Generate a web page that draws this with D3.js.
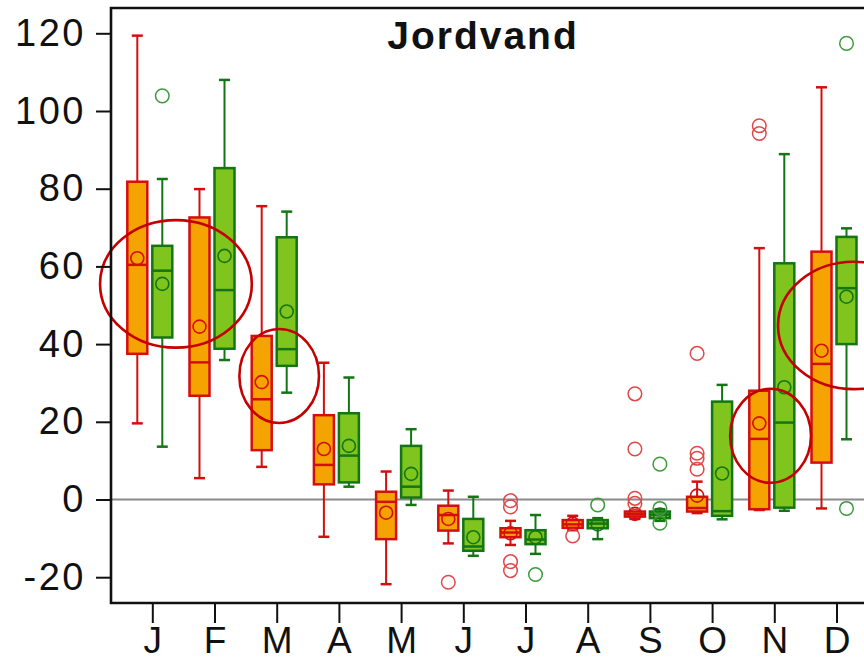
<!DOCTYPE html>
<html>
<head>
<meta charset="utf-8">
<script src="https://cdn.jsdelivr.net/npm/d3@7"></script>
<style>
  html, body { margin: 0; padding: 0; background: #fff; }
  svg { display: block; font-family: "Liberation Sans", Arial, Helvetica, sans-serif; }
</style>
</head>
<body>
<svg id="chart" width="864" height="664"></svg>
<script>
// Month labels along the x axis
const months = ["J", "F", "M", "A", "M", "J", "J", "A", "S", "O", "N", "D"];
const yTicks = [-20, 0, 20, 40, 60, 80, 100, 120];

// Series A (orange boxes): [whisker low, Q1, median, Q3, whisker high]
const aStats = [
  [19.6, 37.5, 60.4, 81.8, 119.4],
  [5.5, 26.7, 35.3, 72.6, 79.9],
  [8.4, 12.7, 25.8, 42.1, 75.5],
  [-9.6, 3.9, 8.9, 21.7, 35.2],
  [-21.8, -10.2, -0.6, 2.0, 7.2],
  [-11.3, -8.0, -4.0, -1.6, 2.3],
  [-11.7, -9.7, -8.5, -7.4, -5.5],
  [-7.9, -7.3, -6.4, -5.3, -4.2],
  [-5.0, -4.4, -3.8, -3.1, -2.7],
  [-3.5, -3.1, -2.2, 0.7, 4.6],
  [-2.7, -2.5, 15.6, 28.0, 64.7],
  [-2.3, 9.5, 34.9, 63.8, 106.1]
];
const aMeans = [62.1, 44.5, 30.2, 13.0, -3.4, -5.0, -8.7, -6.2, -3.7, 1.0, 19.6, 38.3];
const aOutliers = [
  [], [], [], [], [], [-21.3],
  [-0.3, -1.9, -16.0, -18.3],
  [-9.4],
  [27.2, 13.0, 0.3, -1.0],
  [37.6, 11.9, 10.6, 7.8],
  [96.2, 94.2],
  []
];

// Series B (green boxes)
const bStats = [
  [13.6, 41.7, 58.9, 65.3, 82.5],
  [35.9, 38.8, 53.9, 85.3, 108.0],
  [27.5, 34.4, 38.7, 67.5, 74.1],
  [3.3, 4.4, 11.3, 22.2, 31.4],
  [-1.4, 0.5, 3.3, 13.8, 18.1],
  [-14.5, -13.2, -12.1, -5.0, 0.7],
  [-14.0, -11.5, -10.3, -7.9, -4.0],
  [-10.2, -7.4, -6.2, -5.3, -4.8],
  [-5.5, -4.8, -3.9, -3.1, -2.5],
  [-5.1, -4.2, -3.0, 25.2, 29.5],
  [-2.9, -2.1, 19.8, 60.8, 88.9],
  [15.5, 40.0, 54.4, 67.6, 69.8]
];
const bMeans = [55.5, 62.7, 48.4, 13.8, 6.6, -9.7, -9.7, -6.4, -3.9, 6.7, 28.9, 52.2];
const bOutliers = [
  [103.9], [], [], [], [], [],
  [-19.3],
  [-1.4],
  [9.1, -2.3, -6.1],
  [],
  [],
  [117.4, -2.3]
];

// Highlight rings: centre (month index, value) and radii (months, value units)
const rings = [
  { m: 0.38, v: 55.5, rm: 1.22, rv: 16.4 },
  { m: 2.04, v: 31.8, rm: 0.64, rv: 12.1 },
  { m: 9.94, v: 16.4, rm: 0.65, rv: 12.1 },
  { m: 11.28, v: 44.8, rm: 1.22, rv: 16.4 }
];

const svg = d3.select("#chart");
const W = 864, H = 664;
const plot = { left: 111, top: 8, bottom: 603, right: 880 };

const x = d3.scaleLinear().domain([0, 11]).range([152.3, 836.5]);
const y = d3.scaleLinear().domain([-20, 120]).range([577.2, 33.3]);

svg.append("rect").attr("width", W).attr("height", H).attr("fill", "#fff");

// zero reference line
svg.append("line")
  .attr("x1", plot.left).attr("x2", plot.right)
  .attr("y1", y(0)).attr("y2", y(0))
  .attr("stroke", "#8a8a8a").attr("stroke-width", 2);

const series = [
  { stats: aStats, means: aMeans, outliers: aOutliers, dx: -15,
    fill: "#f5a300", stroke: "#d40e0e", outStroke: "#e04848" },
  { stats: bStats, means: bMeans, outliers: bOutliers, dx: 10,
    fill: "#80c41e", stroke: "#137513", outStroke: "#3c9a3c" }
];
const boxW = 20, capW = 11;

series.forEach(s => {
  const g = svg.append("g");
  s.stats.forEach((st, i) => {
    const cx = x(i) + s.dx;
    const [lo, q1, med, q3, hi] = st;
    // whiskers
    g.append("line").attr("x1", cx).attr("x2", cx).attr("y1", y(hi)).attr("y2", y(q3))
      .attr("stroke", s.stroke).attr("stroke-width", 2);
    g.append("line").attr("x1", cx).attr("x2", cx).attr("y1", y(q1)).attr("y2", y(lo))
      .attr("stroke", s.stroke).attr("stroke-width", 2);
    [lo, hi].forEach(v => {
      g.append("line").attr("x1", cx - capW / 2).attr("x2", cx + capW / 2)
        .attr("y1", y(v)).attr("y2", y(v))
        .attr("stroke", s.stroke).attr("stroke-width", 2.5);
    });
    // box
    g.append("rect")
      .attr("x", cx - boxW / 2).attr("width", boxW)
      .attr("y", y(q3)).attr("height", Math.max(1, y(q1) - y(q3)))
      .attr("fill", s.fill).attr("stroke", s.stroke).attr("stroke-width", 2.5);
    // median
    g.append("line").attr("x1", cx - boxW / 2).attr("x2", cx + boxW / 2)
      .attr("y1", y(med)).attr("y2", y(med))
      .attr("stroke", s.stroke).attr("stroke-width", 2.5);
    // mean
    g.append("circle").attr("cx", cx).attr("cy", y(s.means[i])).attr("r", 6.5)
      .attr("fill", "none").attr("stroke", s.stroke).attr("stroke-width", 1.6);
    // outliers
    s.outliers[i].forEach(v => {
      g.append("circle").attr("cx", cx).attr("cy", y(v)).attr("r", 6.8)
        .attr("fill", "none").attr("stroke", s.outStroke).attr("stroke-width", 1.5);
    });
  });
});

// highlight rings
const pxPerMonth = x(1) - x(0);
const pxPerUnit = y(0) - y(1);
svg.append("g").selectAll("ellipse").data(rings).join("ellipse")
  .attr("cx", d => x(d.m)).attr("cy", d => y(d.v))
  .attr("rx", d => d.rm * pxPerMonth).attr("ry", d => d.rv * pxPerUnit)
  .attr("fill", "none").attr("stroke", "#c40000").attr("stroke-width", 2.6);

// frame
svg.append("path")
  .attr("d", `M${plot.right},${plot.top}H${plot.left}V${plot.bottom}H${plot.right}`)
  .attr("fill", "none").attr("stroke", "#111").attr("stroke-width", 2.6);

// y axis
const yAxis = svg.append("g").attr("transform", `translate(${plot.left},0)`)
  .call(d3.axisLeft(y).tickValues(yTicks).tickFormat(d => String(d))
    .tickSize(15).tickPadding(10));
yAxis.select(".domain").remove();
yAxis.selectAll(".tick line").attr("stroke", "#111").attr("stroke-width", 2);
yAxis.selectAll(".tick text").attr("font-size", 38).attr("fill", "#111")
  .attr("letter-spacing", 2.5)
  .attr("font-family", "Liberation Sans, Arial, sans-serif");

// x axis
const xAxis = svg.append("g").attr("transform", `translate(0,${plot.bottom})`)
  .call(d3.axisBottom(x).tickValues(d3.range(12)).tickFormat(i => months[i])
    .tickSize(20).tickPadding(4));
xAxis.select(".domain").remove();
xAxis.selectAll(".tick line").attr("stroke", "#111").attr("stroke-width", 2);
xAxis.selectAll(".tick text").attr("font-size", 37).attr("fill", "#111")
  .attr("font-family", "Liberation Sans, Arial, sans-serif");

// title
svg.append("text")
  .attr("x", 483).attr("y", 49)
  .attr("text-anchor", "middle")
  .attr("font-size", 39).attr("font-weight", "bold").attr("fill", "#111")
  .attr("letter-spacing", 2)
  .text("Jordvand");
</script>
</body>
</html>
